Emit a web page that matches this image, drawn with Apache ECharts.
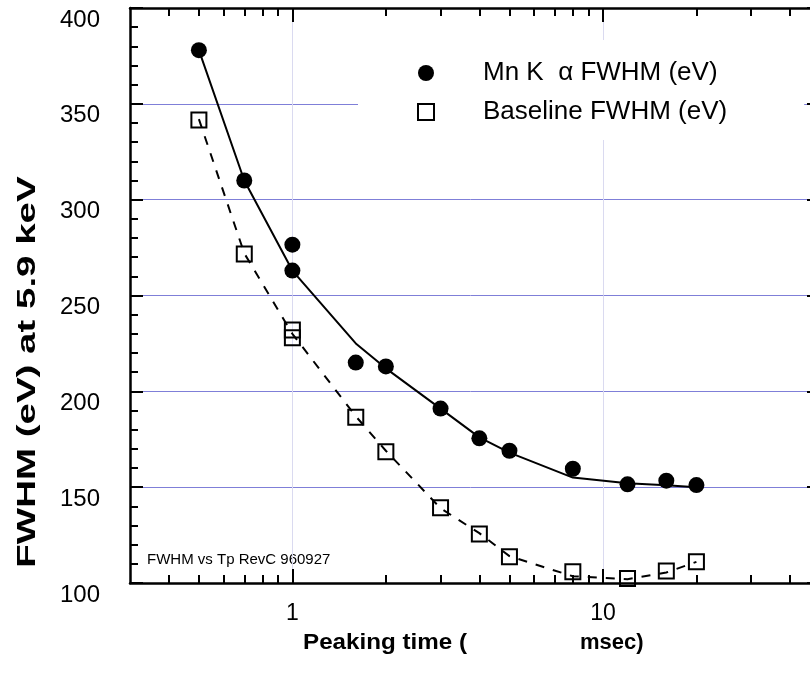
<!DOCTYPE html>
<html>
<head>
<meta charset="utf-8">
<script src="https://cdn.jsdelivr.net/npm/echarts@6/dist/echarts.min.js"></script>
<style>
  html, body { margin: 0; padding: 0; background: #fff; }
  #chart { width: 810px; height: 676px; }
</style>
</head>
<body>
<div id="chart"></div>
<script>
const FONT = '"Liberation Sans", Arial, sans-serif';

// measured points (peaking time in usec)
const peakTime = [0.5, 0.7, 1, 1, 1.6, 2, 3, 4, 5, 8, 12, 16, 20];
const mnKaFwhm = [378, 310, 276.5, 263, 215, 213, 191, 175.5, 169, 159.6, 151.5, 153.4, 151.1];
const baselineFwhm = [341.6, 271.7, 232, 228, 186.5, 168.5, 139.3, 125.6, 113.7, 105.9, 102.4, 106.3, 111.1];

// fitted curves
const fitTime = [0.5, 0.7, 1, 1.6, 2, 3, 4, 5, 8, 12, 16, 20];
const mnKaFit = [378, 310, 263, 225, 212, 191, 176, 168, 155, 152, 151, 150];
const baselineFit = [342, 272, 230, 187, 169, 139, 126, 114, 103.5, 102, 105.5, 111];

const xMajorTicks = [1, 10];
const xMinorTicks = [0.4, 0.5, 0.6, 0.7, 0.8, 0.9, 2, 3, 4, 5, 6, 7, 8, 9, 20, 30, 40];

const seriesNames = ['Mn K  \u03b1 FWHM (eV)', 'Baseline FWHM (eV)'];

const zip = (xs, ys) => xs.map((x, i) => [x, ys[i]]);

const chart = echarts.init(document.getElementById('chart'));

const logAxis = (extra) => Object.assign({
    type: 'log',
    logBase: 10,
    min: 0.3,
    max: 50,
    axisLine: {show: false, onZero: false},
    axisLabel: {show: false},
    splitLine: {show: false}
}, extra);

const option = {
    animation: false,
    backgroundColor: '#fff',
    // plot runs past the right edge of the page, like the original
    grid: {left: 130, width: 690, top: 8, height: 575, outerBoundsMode: 'none'},
    legend: {
        orient: 'vertical',
        left: 358,
        top: 40,
        data: seriesNames,
        backgroundColor: '#fff',
        padding: [18, 77, 13, 59],
        itemWidth: 16,
        itemHeight: 16,
        itemGap: 9,
        selectedMode: false,
        textStyle: {
            fontFamily: FONT,
            fontSize: 26,
            color: '#000',
            lineHeight: 30,
            padding: [0, 0, 0, 44]
        }
    },
    xAxis: [
        logAxis({
            position: 'bottom',
            axisLine: {show: true, onZero: false, lineStyle: {color: '#000', width: 2.5}},
            axisTick: {inside: true, length: 14, customValues: xMajorTicks, lineStyle: {color: '#000', width: 2}},
            axisLabel: {show: true, customValues: xMajorTicks, fontFamily: FONT, fontSize: 23, color: '#000', margin: 19},
            splitLine: {show: true, lineStyle: {color: '#dadaf0', width: 1}}
        }),
        logAxis({
            position: 'bottom',
            axisTick: {inside: true, length: 8, customValues: xMinorTicks, lineStyle: {color: '#000', width: 2}}
        }),
        logAxis({
            position: 'top',
            axisLine: {show: true, onZero: false, lineStyle: {color: '#000', width: 2.5}},
            axisTick: {inside: true, length: 14, customValues: xMajorTicks, lineStyle: {color: '#000', width: 2}}
        }),
        logAxis({
            position: 'top',
            axisTick: {inside: true, length: 8, customValues: xMinorTicks, lineStyle: {color: '#000', width: 2}}
        })
    ],
    yAxis: [
        {
            type: 'value',
            position: 'left',
            min: 100,
            max: 400,
            interval: 50,
            axisLine: {show: true, onZero: false, lineStyle: {color: '#000', width: 2.5}},
            axisTick: {show: true, inside: true, length: 13, lineStyle: {color: '#000', width: 2}},
            minorTick: {show: true, splitNumber: 5, length: 8, lineStyle: {color: '#000', width: 2}},
            axisLabel: {fontFamily: FONT, fontSize: 24, color: '#000', margin: 30, verticalAlign: 'top'},
            splitLine: {show: true, lineStyle: {color: '#7f7fd8', width: 1}}
        },
        {
            type: 'value',
            position: 'right',
            min: 100,
            max: 400,
            interval: 50,
            axisLine: {show: true, onZero: false, lineStyle: {color: '#000', width: 2.5}},
            axisTick: {show: true, inside: true, length: 13, lineStyle: {color: '#000', width: 2}},
            minorTick: {show: true, splitNumber: 5, length: 8, lineStyle: {color: '#000', width: 2}},
            axisLabel: {show: false},
            splitLine: {show: false}
        }
    ],
    graphic: [
        {
            type: 'text',
            x: 28,
            y: 372,
            rotation: Math.PI / 2,
            scaleX: 1.48,
            style: {
                text: 'FWHM (eV) at 5.9 keV',
                font: 'bold 26px ' + FONT,
                fill: '#000',
                align: 'center',
                verticalAlign: 'middle'
            }
        },
        {
            type: 'text',
            x: 303,
            y: 643,
            scaleX: 1.1,
            style: {text: 'Peaking time (', font: 'bold 22px ' + FONT, fill: '#000', verticalAlign: 'middle'}
        },
        {
            type: 'text',
            x: 580,
            y: 643,
            style: {text: 'msec)', font: 'bold 22px ' + FONT, fill: '#000', verticalAlign: 'middle'}
        },
        {
            type: 'text',
            x: 147,
            y: 560,
            style: {text: 'FWHM vs Tp RevC 960927', font: '15px ' + FONT, fill: '#000', verticalAlign: 'middle'}
        }
    ],
    series: [
        {
            name: 'Mn fit',
            type: 'line',
            data: zip(fitTime, mnKaFit),
            showSymbol: false,
            silent: true,
            lineStyle: {color: '#000', width: 2}
        },
        {
            name: 'Baseline fit',
            type: 'line',
            data: zip(fitTime, baselineFit),
            showSymbol: false,
            silent: true,
            lineStyle: {color: '#000', width: 2, type: [9, 9]}
        },
        {
            name: seriesNames[0],
            type: 'scatter',
            data: zip(peakTime, mnKaFwhm),
            symbol: 'circle',
            symbolSize: 16,
            itemStyle: {color: '#000', opacity: 1},
            z: 5
        },
        {
            name: seriesNames[1],
            type: 'scatter',
            data: zip(peakTime, baselineFwhm),
            symbol: 'rect',
            symbolSize: 15,
            itemStyle: {color: 'rgba(255,255,255,0)', borderColor: '#000', borderWidth: 2, opacity: 1},
            z: 5
        }
    ]
};

chart.setOption(option);
</script>
</body>
</html>
